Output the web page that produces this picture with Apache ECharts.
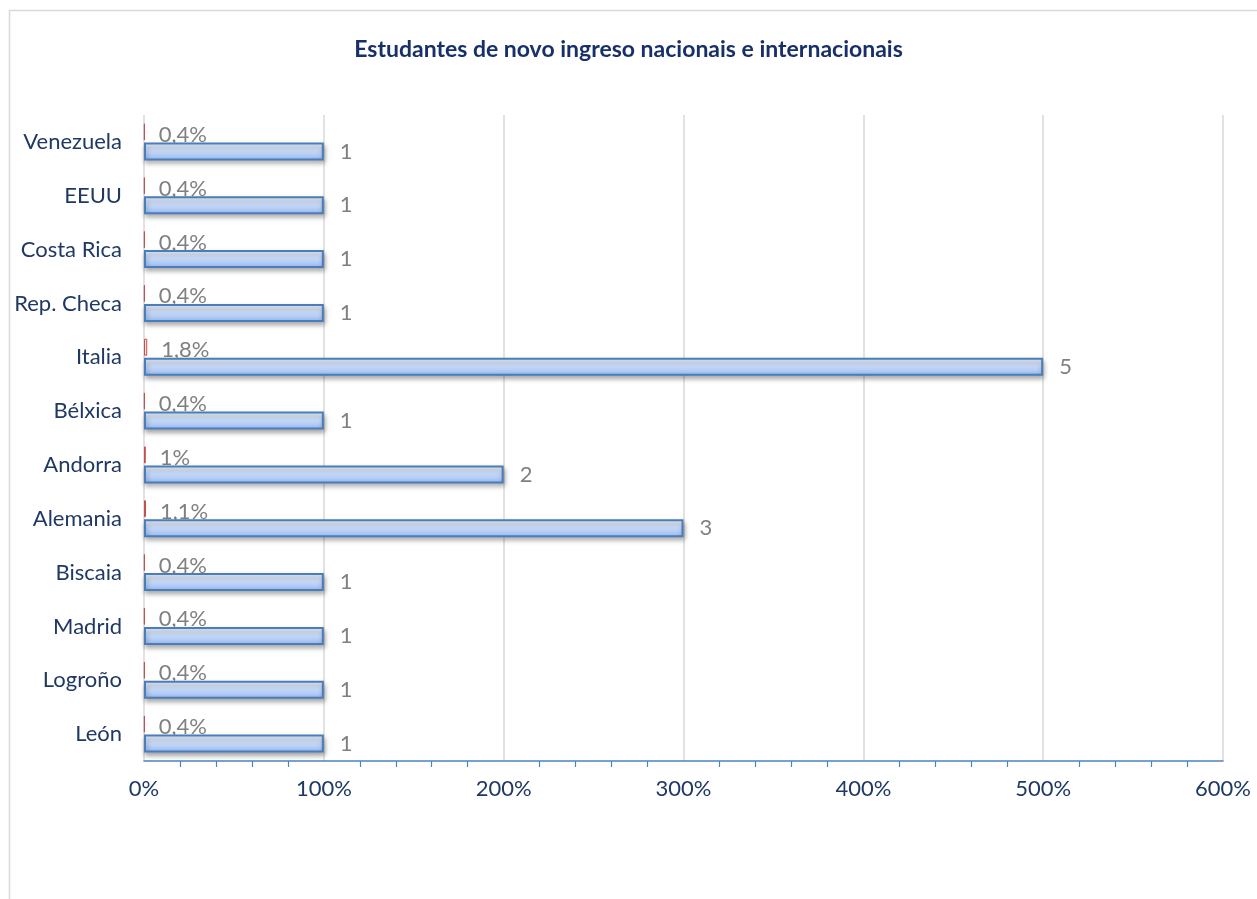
<!DOCTYPE html>
<html>
<head>
<meta charset="utf-8">
<script src="https://cdn.jsdelivr.net/npm/echarts@6/dist/echarts.min.js"></script>
<style>html,body{margin:0;padding:0;background:#fff}#c{width:1257px;height:899px}</style>
</head>
<body>
<div id="c"></div>
<script>
const categories = ['León','Logroño','Madrid','Biscaia','Alemania','Andorra','Bélxica','Italia','Rep. Checa','Costa Rica','EEUU','Venezuela'];
const studentCounts = [1,1,1,1,3,2,1,5,1,1,1,1];
const sharePercent = [0.4,0.4,0.4,0.4,1.1,1,0.4,1.8,0.4,0.4,0.4,0.4];
const axisTicks = [0,1,2,3,4,5,6];

const chart = echarts.init(document.getElementById('c'));
const font = 'Lato, Open Sans, sans-serif';
chart.setOption({
  animation: false,
  title: {
    text: 'Estudantes de novo ingreso nacionais e internacionais',
    left: 'center', top: 33,
    textStyle: {color: '#17306a', fontSize: 23, fontWeight: 'bold', fontFamily: font}
  },
  graphic: [{
    type: 'rect', shape: {x: 9.5, y: 10.5, width: 1260, height: 900},
    style: {fill: 'none', stroke: '#d9d9d9', lineWidth: 1.5}, silent: true
  }],
  grid: {left: 144, right: 34, top: 115, bottom: 138, containLabel: false},
  xAxis: {
    type: 'value', min: 0, max: 6, interval: 1,
    axisLine: {show: true, lineStyle: {color: '#4f81bd', width: 1.5}},
    axisTick: {show: false},
    minorTick: {show: true, splitNumber: 5, length: 6, lineStyle: {color: '#4f81bd', width: 1.2}},
    splitLine: {show: true, lineStyle: {color: '#d9d9d9', width: 1.5}},
    axisLabel: {color: '#1f3864', fontSize: 22, fontFamily: font, margin: 17,
      formatter: v => Math.round(v * 100) + '%'}
  },
  yAxis: {
    type: 'category', data: categories,
    axisLine: {show: false}, axisTick: {show: false},
    axisLabel: {color: '#1f3864', fontSize: 22, fontFamily: font, margin: 22}
  },
  series: [
    {
      type: 'bar', name: 'Porcentaxe', z: 2,
      data: sharePercent.map(p => p / 100),
      barWidth: 17, barGap: '12%',
      itemStyle: {color: '#fbe3e2', borderColor: '#c0504d', borderWidth: 1},
      label: {show: true, position: 'right', distance: 14, offset: [0, 3], color: '#808080', fontSize: 22, fontFamily: font,
        formatter: p => String(sharePercent[p.dataIndex]).replace('.', ',') + '%'}
    },
    {
      type: 'bar', name: 'Estudantes', z: 3,
      data: studentCounts,
      barWidth: 18,
      itemStyle: {
        color: {type: 'linear', x: 0, y: 0, x2: 0, y2: 1, colorStops: [
          {offset: 0, color: '#f0f6ff'}, {offset: 1, color: '#99baf1'}]},
        borderColor: '#4a7ebb', borderWidth: 2,
        shadowColor: 'rgba(0,0,0,0.35)', shadowBlur: 5, shadowOffsetX: 1, shadowOffsetY: 3
      },
      label: {show: true, position: 'right', distance: 16, color: '#808080', fontSize: 22, fontFamily: font}
    }
  ]
});
</script>
</body>
</html>
